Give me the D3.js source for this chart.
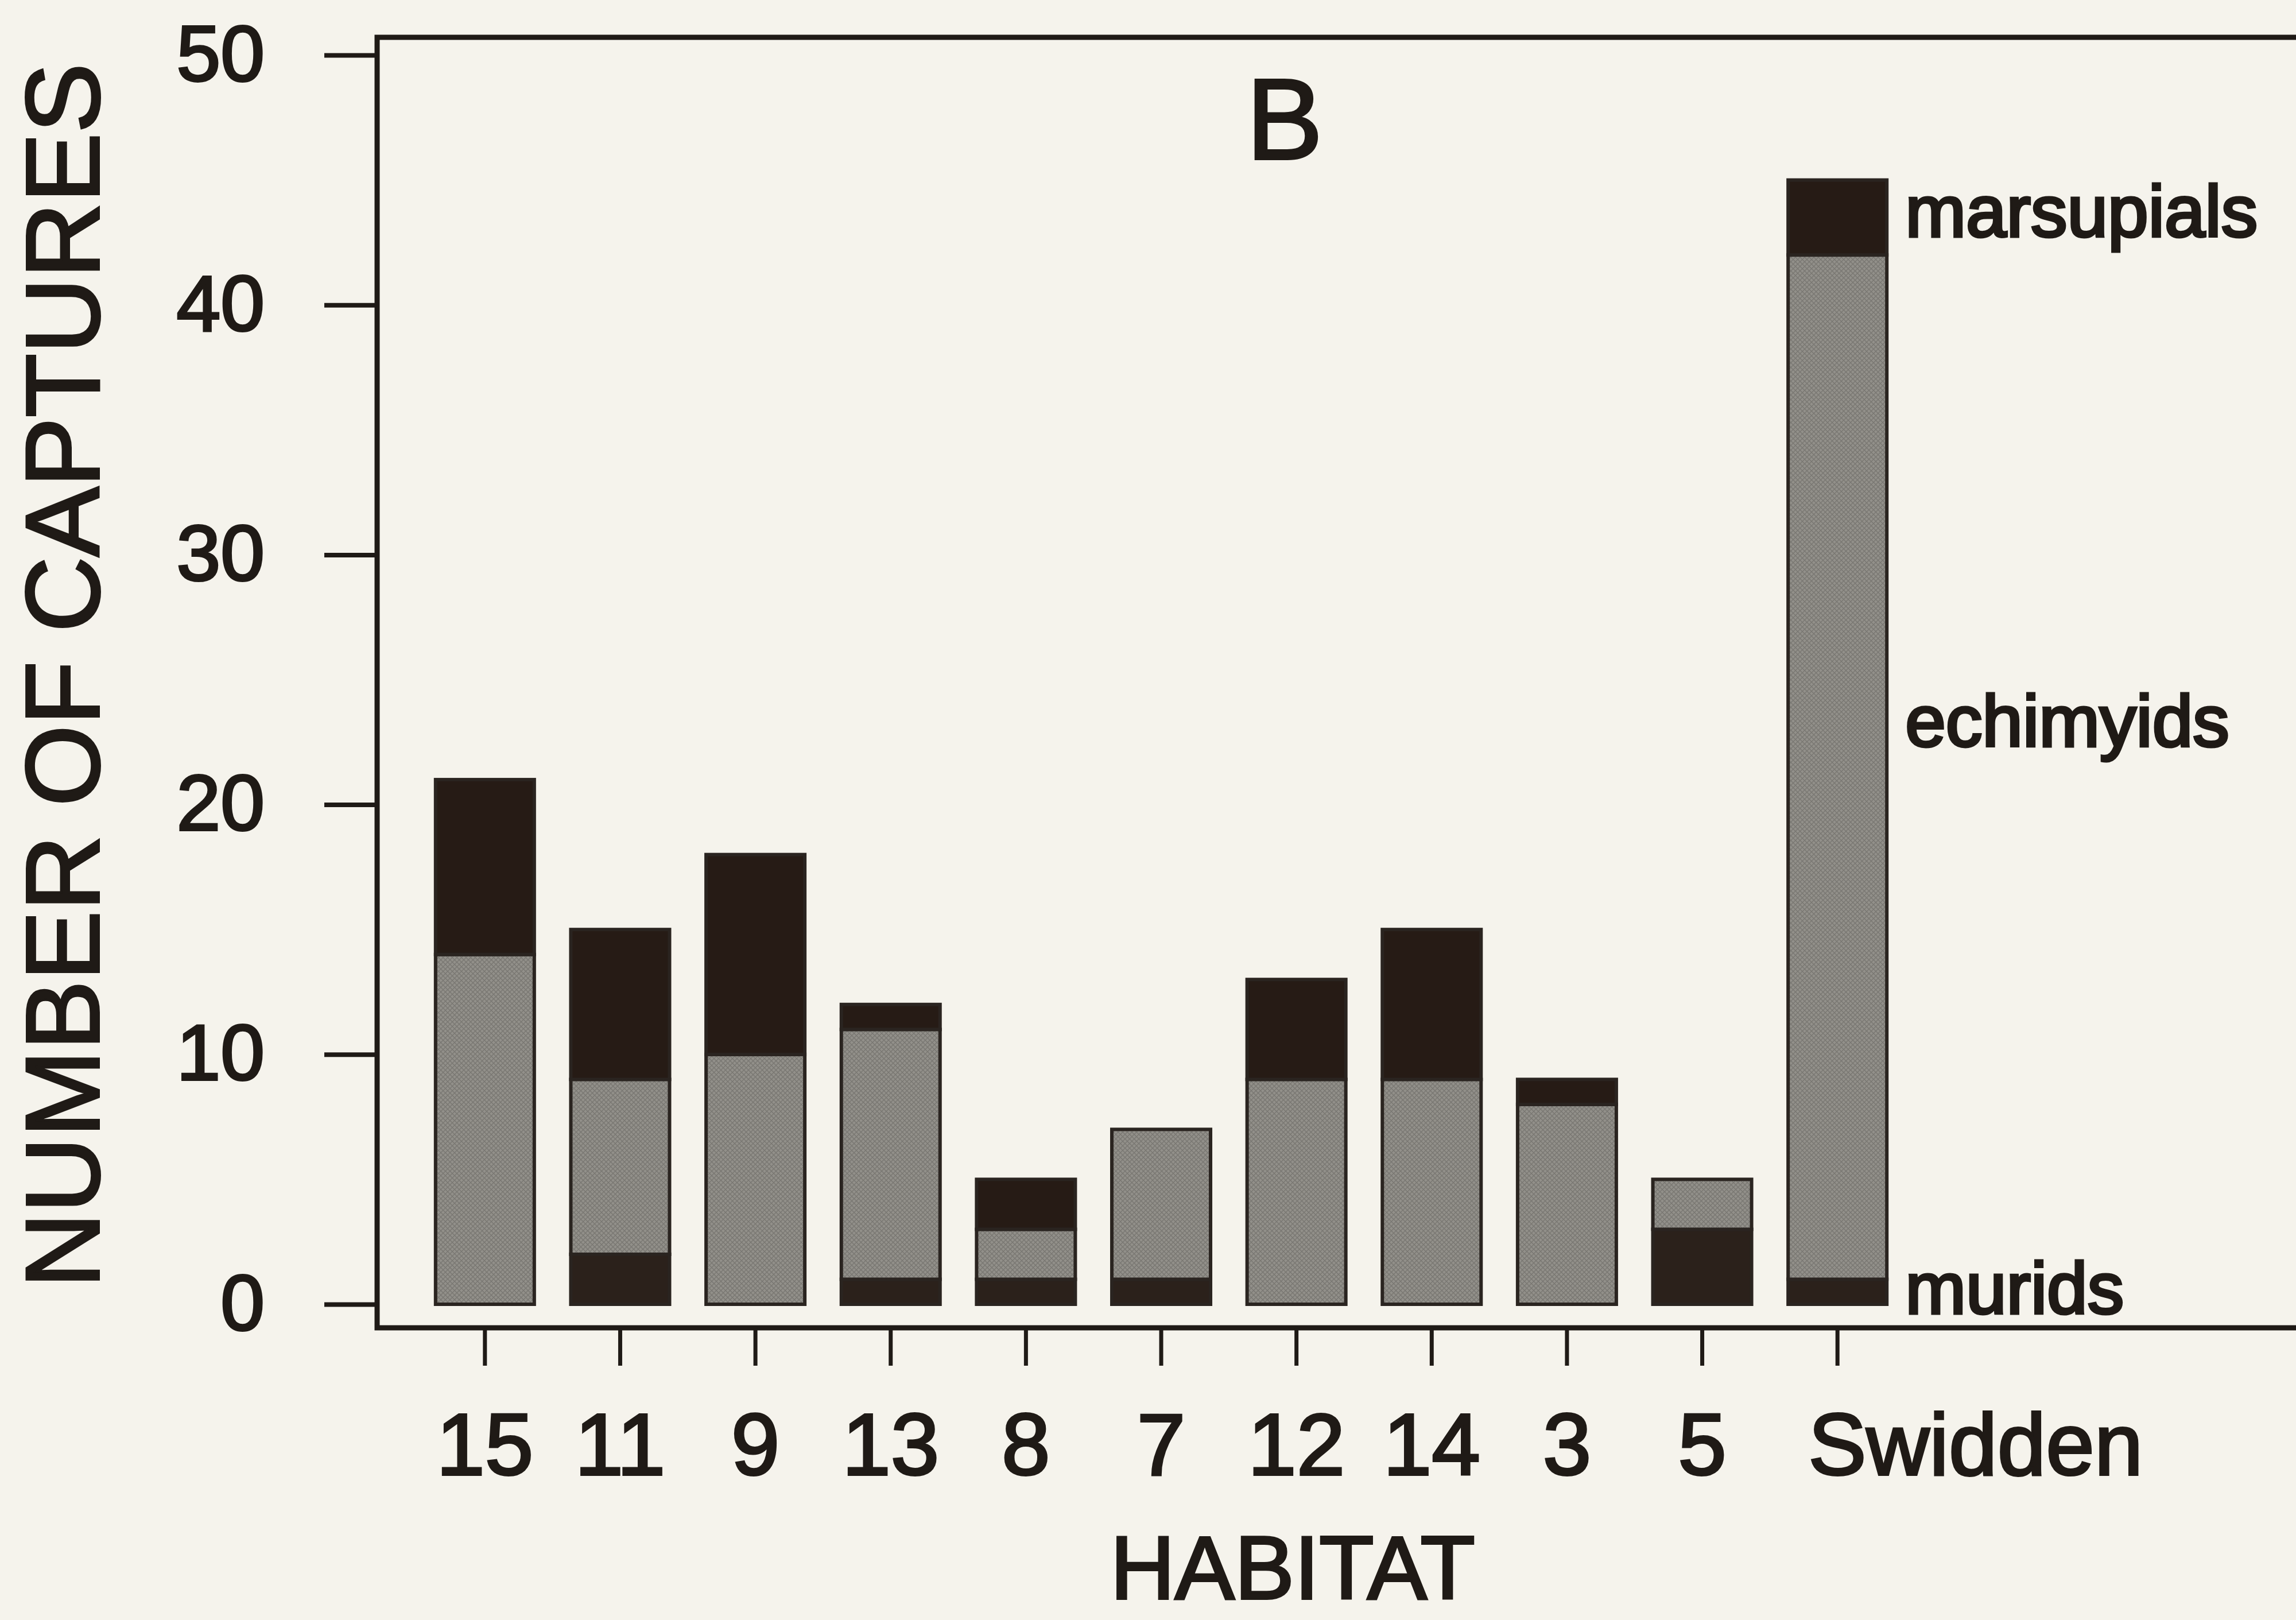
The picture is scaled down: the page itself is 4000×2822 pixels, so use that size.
<!DOCTYPE html>
<html>
<head>
<meta charset="utf-8">
<script src="https://cdn.jsdelivr.net/npm/d3@7"></script>
<style>
  html, body { margin: 0; padding: 0; background: #f5f3ec; }
  svg { display: block; }
</style>
</head>
<body>
<div id="chart"></div>
<script>
const habitats = ['15', '11', '9', '13', '8', '7', '12', '14', '3', '5', 'Swidden'];
const murids = [0, 2, 0, 1, 1, 1, 0, 0, 0, 3, 1];
const echimyids = [14, 7, 10, 10, 2, 6, 9, 9, 8, 2, 41];
const marsupials = [7, 6, 8, 1, 2, 0, 4, 6, 1, 0, 3];
const groups = ['murids', 'echimyids', 'marsupials'];
const yTicks = [0, 10, 20, 30, 40, 50];

const width = 4000, height = 2822;
const ink = '#1f1a16';
const font = "'Liberation Sans', Arial, sans-serif";

const rows = habitats.map((h, i) => ({
  habitat: h,
  murids: murids[i],
  echimyids: echimyids[i],
  marsupials: marsupials[i]
}));

const svg = d3.select('#chart')
  .append('svg')
  .attr('width', width)
  .attr('height', height);

// crosshatch fill for the grey segments
const defs = svg.append('defs');
const hatch = defs.append('pattern')
  .attr('id', 'hatch')
  .attr('patternUnits', 'userSpaceOnUse')
  .attr('width', 8)
  .attr('height', 8);
hatch.append('rect').attr('width', 8).attr('height', 8).attr('fill', '#92908a');
hatch.append('path')
  .attr('d', 'M0,8 L8,0 M0,0 L8,8')
  .attr('stroke', '#797772')
  .attr('stroke-width', 1.4);

const x = d3.scaleBand()
  .domain(habitats)
  .range([727, 3319])
  .paddingInner(0.27)
  .paddingOuter(0.135);

const y = d3.scaleLinear()
  .domain([0, 50])
  .range([2272, 96]);

const fills = {
  murids: '#2b211b',
  echimyids: 'url(#hatch)',
  marsupials: '#261b15'
};

const stacked = d3.stack().keys(groups)(rows);

// bars
svg.append('g')
  .selectAll('g')
  .data(stacked)
  .join('g')
  .attr('fill', d => fills[d.key])
  .selectAll('rect')
  .data(d => d.filter(s => s[1] - s[0] > 0))
  .join('rect')
  .attr('x', d => x(d.data.habitat))
  .attr('y', d => y(d[1]))
  .attr('width', x.bandwidth())
  .attr('height', d => y(d[0]) - y(d[1]))
  .attr('stroke', '#2a2420')
  .attr('stroke-width', 6);

// frame (open on the right, cropped)
const axisX = 657, axisY = 2313, topY = 65;
svg.append('path')
  .attr('d', `M${width},${topY} H${axisX} V${axisY} H${width}`)
  .attr('fill', 'none')
  .attr('stroke', ink)
  .attr('stroke-width', 9);

// heavier text, like the printed figure
function inkText(sel, size) {
  sel.attr('fill', ink)
    .attr('stroke', ink)
    .attr('stroke-width', 4)
    .style('font-family', font)
    .style('font-size', size + 'px');
}

// y axis
const yAxis = svg.append('g')
  .attr('transform', `translate(${axisX},0)`)
  .call(d3.axisLeft(y).tickValues(yTicks).tickSize(92).tickPadding(104));
yAxis.select('.domain').remove();
yAxis.selectAll('line').attr('stroke', ink).attr('stroke-width', 8);
yAxis.selectAll('text').call(inkText, 138);

// x axis
const xAxis = svg.append('g')
  .attr('transform', `translate(0,${axisY})`)
  .call(d3.axisBottom(x).tickSize(66).tickPadding(82));
xAxis.select('.domain').remove();
xAxis.selectAll('line').attr('stroke', ink).attr('stroke-width', 7);
xAxis.selectAll('text').call(inkText, 152);
xAxis.selectAll('.tick')
  .filter(d => d === 'Swidden')
  .select('text')
  .attr('text-anchor', 'start')
  .attr('x', -51);

// axis titles
svg.append('text')
  .attr('x', 2252)
  .attr('y', 2785)
  .attr('text-anchor', 'middle')
  .call(inkText, 156)
  .text('HABITAT');

svg.append('text')
  .attr('transform', 'translate(172,1177) rotate(-90)')
  .attr('text-anchor', 'middle')
  .call(inkText, 182)
  .text('NUMBER OF CAPTURES');

// panel letter
svg.append('text')
  .attr('x', 2238)
  .attr('y', 277)
  .attr('text-anchor', 'middle')
  .call(inkText, 200)
  .text('B');

// group labels next to the Swidden bar
const labelX = x('Swidden') + x.bandwidth() + 32;
const labelY = {
  murids: 2288,
  echimyids: 1300,
  marsupials: 412
};
svg.append('g')
  .selectAll('text')
  .data(groups)
  .join('text')
  .attr('x', labelX)
  .attr('y', d => labelY[d])
  .call(inkText, 127)
  .attr('stroke-width', 5)
  .text(d => d);
</script>
</body>
</html>
